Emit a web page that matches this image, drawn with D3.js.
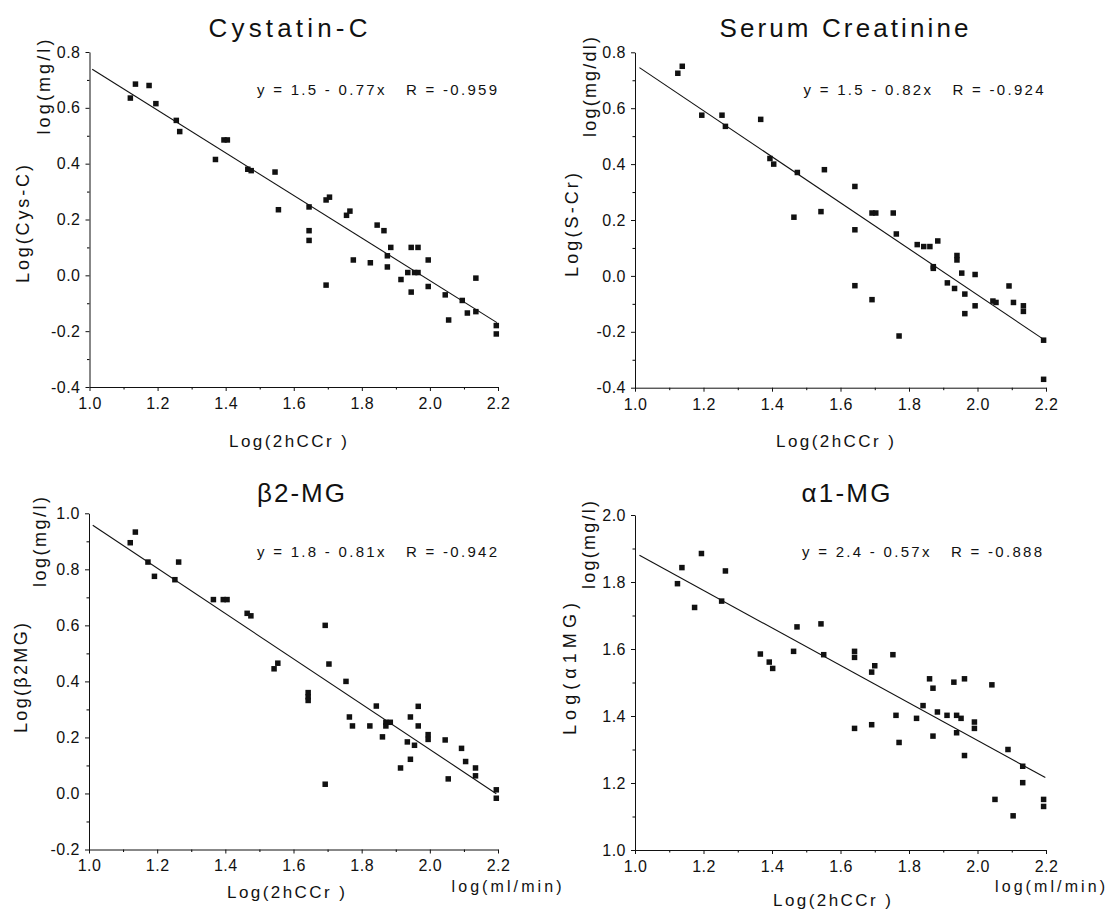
<!DOCTYPE html>
<html>
<head>
<meta charset="utf-8">
<script src="https://cdn.jsdelivr.net/npm/d3@7"></script>
<style>
  html, body { margin: 0; padding: 0; background: #fff; }
  svg { display: block; }
  text { font-family: "Liberation Sans", Arial, sans-serif; fill: #111; }
</style>
</head>
<body>
<svg id="chart" width="1109" height="912"></svg>
<script>
// ---------- data ----------
const xTicks = [1.0, 1.2, 1.4, 1.6, 1.8, 2.0, 2.2];
const xMinorTicks = [1.1, 1.3, 1.5, 1.7, 1.9, 2.1];
const yTicksA = [-0.4, -0.2, 0.0, 0.2, 0.4, 0.6, 0.8];
const yMinorA = [-0.3, -0.1, 0.1, 0.3, 0.5, 0.7];
const yTicksB = [-0.2, 0.0, 0.2, 0.4, 0.6, 0.8, 1.0];
const yMinorB = [-0.1, 0.1, 0.3, 0.5, 0.7, 0.9];
const yTicksC = [1.0, 1.2, 1.4, 1.6, 1.8, 2.0];
const yMinorC = [1.1, 1.3, 1.5, 1.7, 1.9];

const titles = ["Cystatin-C", "Serum Creatinine", "\u03B22-MG", "\u03B11-MG"];
const equations = [
  "y = 1.5 - 0.77x\u00A0\u00A0\u00A0R = -0.959",
  "y = 1.5 - 0.82x\u00A0\u00A0\u00A0R = -0.924",
  "y = 1.8 - 0.81x\u00A0\u00A0\u00A0R = -0.942",
  "y = 2.4 - 0.57x\u00A0\u00A0\u00A0R = -0.888"
];
const unitLabels = ["log(mg/l)", "log(mg/dl)", "log(mg/l)", "log(mg/l)"];
const yLabels = ["Log(Cys-C)", "Log(S-Cr)", "Log(\u03B22MG)", "Log(\u03B11MG)"];
const xLabel = "Log(2hCCr )";
const xUnitLabel = "log(ml/min)";

// fitted lines: intercept, slope, x-range
const lineIntercepts = [1.507, 1.580, 1.775, 2.447];
const lineSlopes = [-0.763, -0.824, -0.809, -0.560];
const lineX0 = [1.008, 1.013, 1.011, 1.013];
const lineX1 = [2.197, 2.193, 2.195, 2.198];

const cysX = [1.12,1.135,1.175,1.195,1.255,1.265,1.37,1.395,1.405,1.465,1.475,1.545,1.555,1.645,1.645,1.645,1.695,1.705,1.695,1.755,1.765,1.775,1.825,1.845,1.865,1.875,1.875,1.885,1.915,1.935,1.945,1.945,1.955,1.965,1.965,1.995,1.995,2.045,2.055,2.095,2.11,2.135,2.135,2.195,2.195];
const cysY = [0.635,0.685,0.68,0.615,0.555,0.515,0.415,0.485,0.485,0.38,0.375,0.37,0.235,0.245,0.16,0.125,0.27,0.28,-0.035,0.215,0.23,0.055,0.045,0.18,0.16,0.07,0.03,0.1,-0.015,0.01,0.1,-0.06,0.01,0.01,0.1,0.055,-0.04,-0.07,-0.16,-0.09,-0.135,-0.01,-0.13,-0.18,-0.21];

const scrX = [1.125,1.138,1.195,1.254,1.264,1.367,1.394,1.405,1.464,1.474,1.543,1.553,1.642,1.642,1.642,1.692,1.703,1.692,1.754,1.763,1.771,1.824,1.843,1.861,1.871,1.871,1.884,1.912,1.933,1.94,1.94,1.954,1.963,1.963,1.993,1.993,2.045,2.054,2.092,2.105,2.134,2.134,2.193,2.193];
const scrY = [0.725,0.75,0.575,0.575,0.535,0.56,0.42,0.4,0.21,0.37,0.23,0.38,0.32,0.165,-0.035,0.225,0.225,-0.085,0.225,0.15,-0.215,0.112,0.105,0.105,0.033,0.027,0.125,-0.025,-0.045,0.073,0.057,0.01,-0.065,-0.135,0.005,-0.107,-0.09,-0.095,-0.036,-0.095,-0.107,-0.127,-0.23,-0.37];

const b2mgX = [1.121,1.136,1.173,1.192,1.252,1.263,1.365,1.394,1.405,1.464,1.475,1.543,1.554,1.643,1.643,1.643,1.693,1.693,1.704,1.754,1.764,1.773,1.824,1.843,1.861,1.871,1.871,1.884,1.914,1.934,1.943,1.943,1.955,1.966,1.966,1.995,1.995,2.045,2.054,2.093,2.105,2.134,2.134,2.195,2.195];
const b2mgY = [0.895,0.933,0.826,0.775,0.763,0.826,0.692,0.692,0.692,0.643,0.634,0.445,0.465,0.36,0.345,0.332,0.6,0.033,0.462,0.4,0.273,0.241,0.241,0.312,0.202,0.254,0.241,0.254,0.091,0.184,0.273,0.122,0.172,0.311,0.241,0.21,0.193,0.191,0.052,0.161,0.114,0.091,0.063,0.013,-0.017];

const a1mgX = [1.124,1.137,1.174,1.194,1.253,1.264,1.366,1.392,1.402,1.463,1.473,1.543,1.551,1.641,1.641,1.641,1.691,1.7,1.691,1.753,1.762,1.771,1.822,1.841,1.86,1.87,1.87,1.883,1.911,1.931,1.939,1.939,1.952,1.962,1.962,1.991,1.991,2.042,2.051,2.089,2.104,2.132,2.132,2.193,2.193];
const a1mgY = [1.795,1.843,1.724,1.885,1.743,1.833,1.585,1.561,1.542,1.593,1.666,1.675,1.583,1.593,1.575,1.363,1.531,1.55,1.374,1.583,1.402,1.321,1.393,1.431,1.511,1.483,1.34,1.412,1.402,1.501,1.402,1.35,1.393,1.511,1.282,1.382,1.363,1.493,1.151,1.3,1.102,1.25,1.201,1.151,1.13];

// ---------- layout ----------
const panels = [
  { xs: cysX, ys: cysY, yDom: [-0.4, 0.8], yT: yTicksA, yM: yMinorA,
    box: [89.5, 498, 52, 387], title: [288, 37, 159], eq: [257, 95],
    unit: [49.5, 87, 95], ylab: [28.5, 224, 118], xlab: [288, 447], xunit: null },
  { xs: scrX, ys: scrY, yDom: [-0.4, 0.8], yT: yTicksA, yM: yMinorA,
    box: [635, 1046, 52.3, 387.7], title: [844, 37, 249], eq: [803.5, 95],
    unit: [596, 87, 100], ylab: [578, 225, 104], xlab: [835, 447], xunit: null },
  { xs: b2mgX, ys: b2mgY, yDom: [-0.2, 1.0], yT: yTicksB, yM: yMinorB,
    box: [89, 498, 513.3, 849.5], title: [301, 502, 88], eq: [257, 557],
    unit: [46, 542, 90], ylab: [27, 678, 110], xlab: [286, 898], xunit: [451.5, 892] },
  { xs: a1mgX, ys: a1mgY, yDom: [1.0, 2.0], yT: yTicksC, yM: yMinorC,
    box: [635, 1046, 515, 850], title: [846, 502, 89], eq: [802, 557],
    unit: [595, 545, 88], ylab: [576, 669, 132], xlab: [832, 906], xunit: [995, 892] }
];

const fmt = v => (v < 0 ? "-" : "") + Math.abs(v).toFixed(1);
const svg = d3.select("#chart");

panels.forEach((p, i) => {
  const [x0, x1, yTop, yBot] = p.box;
  const x = d3.scaleLinear().domain([1.0, 2.2]).range([x0, x1]);
  const y = d3.scaleLinear().domain(p.yDom).range([yBot, yTop]);
  const g = svg.append("g");

  // minor ticks
  g.append("g").attr("transform", `translate(0,${yBot})`)
    .call(d3.axisBottom(x).tickValues(xMinorTicks).tickSize(2.5).tickFormat(""))
    .call(a => a.select(".domain").remove());
  g.append("g").attr("transform", `translate(${x0},0)`)
    .call(d3.axisLeft(y).tickValues(p.yM).tickSize(2.5).tickFormat(""))
    .call(a => a.select(".domain").remove());

  // major axes
  const xa = g.append("g").attr("transform", `translate(0,${yBot})`)
    .call(d3.axisBottom(x).tickValues(xTicks).tickSize(4).tickSizeOuter(0).tickPadding(6.5).tickFormat(fmt));
  const ya = g.append("g").attr("transform", `translate(${x0},0)`)
    .call(d3.axisLeft(y).tickValues(p.yT).tickSize(4).tickSizeOuter(0).tickPadding(5).tickFormat(fmt));
  [xa, ya].forEach(a => {
    a.selectAll("path, line").attr("stroke", "#111").attr("stroke-width", 1);
    a.selectAll("text").attr("font-size", 16).attr("letter-spacing", "0.5px")
      .attr("font-family", '"Liberation Sans", Arial, sans-serif').attr("fill", "#111");
  });

  // regression line
  g.append("line")
    .attr("x1", x(lineX0[i])).attr("y1", y(lineIntercepts[i] + lineSlopes[i] * lineX0[i]))
    .attr("x2", x(lineX1[i])).attr("y2", y(lineIntercepts[i] + lineSlopes[i] * lineX1[i]))
    .attr("stroke", "#111").attr("stroke-width", 1.1);

  // points
  const s = 5.5;
  g.selectAll("rect.pt").data(p.xs.map((v, k) => [v, p.ys[k]])).join("rect")
    .attr("class", "pt")
    .attr("x", d => x(d[0]) - s / 2).attr("y", d => y(d[1]) - s / 2)
    .attr("width", s).attr("height", s).attr("fill", "#111");

  // title
  g.append("text").attr("x", p.title[0]).attr("y", p.title[1])
    .attr("text-anchor", "middle").attr("font-size", 26)
    .attr("textLength", p.title[2]).attr("lengthAdjust", "spacing")
    .text(titles[i]);

  // equation
  g.append("text").attr("x", p.eq[0]).attr("y", p.eq[1])
    .attr("font-size", 15).attr("textLength", 240).attr("lengthAdjust", "spacing")
    .text(equations[i]);

  // y labels (rotated)
  g.append("text").attr("transform", `translate(${p.unit[0]},${p.unit[1]}) rotate(-90)`)
    .attr("text-anchor", "middle").attr("font-size", 18)
    .attr("textLength", p.unit[2]).attr("lengthAdjust", "spacing")
    .text(unitLabels[i]);
  g.append("text").attr("transform", `translate(${p.ylab[0]},${p.ylab[1]}) rotate(-90)`)
    .attr("text-anchor", "middle").attr("font-size", 18)
    .attr("textLength", p.ylab[2]).attr("lengthAdjust", "spacing")
    .text(yLabels[i]);

  // x label
  g.append("text").attr("x", p.xlab[0]).attr("y", p.xlab[1])
    .attr("text-anchor", "middle").attr("font-size", 17)
    .attr("textLength", 118).attr("lengthAdjust", "spacing")
    .text(xLabel);

  if (p.xunit) {
    g.append("text").attr("x", p.xunit[0]).attr("y", p.xunit[1])
      .attr("font-size", 16).attr("textLength", 110).attr("lengthAdjust", "spacing")
      .text(xUnitLabel);
  }
});
</script>
</body>
</html>
